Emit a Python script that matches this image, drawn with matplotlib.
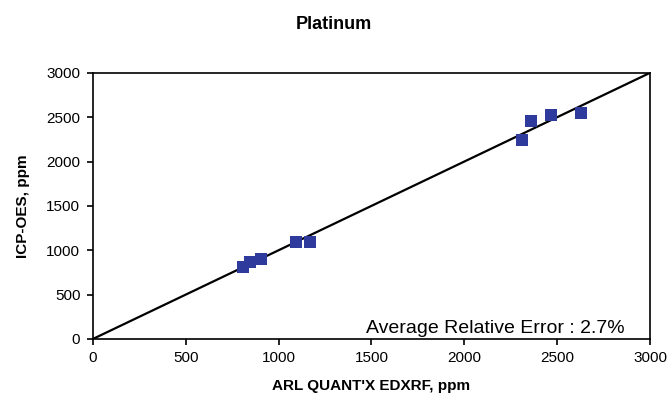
import numpy as np
import matplotlib.pyplot as plt

plt.rcParams['font.family'] = ['Liberation Sans', 'DejaVu Sans']

# readings
edxrf = [808, 845, 903, 1093, 1172, 2310, 2362, 2465, 2631]
icp = [808, 871, 898, 1097, 1097, 2244, 2458, 2525, 2544]
ticks = [0, 500, 1000, 1500, 2000, 2500, 3000]

fig = plt.figure(figsize=(6.68, 3.96), dpi=100)
ax = fig.add_axes([0.139, 0.144, 0.834, 0.672])

ax.plot([0, 3000], [0, 3000], color='black', lw=1.6, zorder=1)
ax.scatter(edxrf, icp, marker='s', s=75, color='#2E3A9C', zorder=2, linewidths=0)

ax.set_xlim(0, 3000)
ax.set_ylim(0, 3000)
ax.set_xticks(ticks)
ax.set_yticks(ticks)
ax.tick_params(labelsize=11, length=4, width=1.2, direction='out', pad=5)
for s in ax.spines.values():
    s.set_linewidth(1.2)

ax.text(2865, 25, 'Average Relative Error : 2.7%', ha='right', va='bottom', fontsize=14)
ax.set_xlabel("ARL QUANT'X EDXRF, ppm", fontsize=11, fontweight='bold', labelpad=10)
ax.set_ylabel('ICP-OES, ppm', fontsize=11, fontweight='bold', labelpad=12)
fig.suptitle('Platinum', fontsize=13, fontweight='bold', y=0.96)

fig.savefig('out.png', dpi=100)
